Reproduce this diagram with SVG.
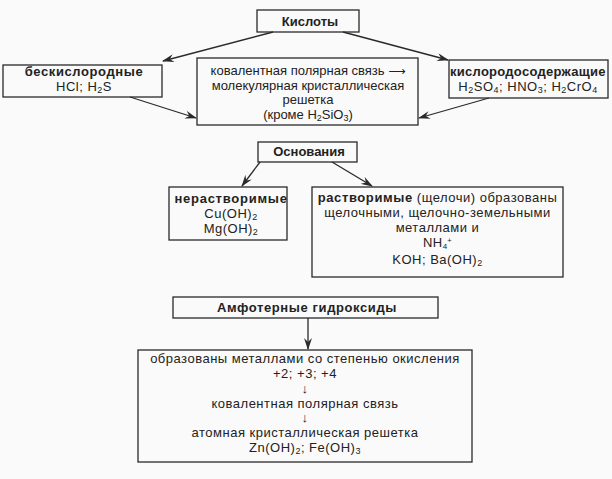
<svg xmlns="http://www.w3.org/2000/svg" width="612" height="479" viewBox="0 0 612 479">
<defs>
<marker id="ah" viewBox="0 0 12 8" refX="11" refY="4" markerWidth="12" markerHeight="8" markerUnits="userSpaceOnUse" orient="auto">
<path d="M0,0 L12,4 L0,8 L4,4 Z" fill="#2a2a2a"/>
</marker>
<style>
.box{fill:none;stroke:#2a2a2a;stroke-width:1.3}
.t{font-family:"Liberation Sans",Arial,sans-serif;font-size:13px;fill:#222;text-anchor:middle;letter-spacing:0.5px}
.m{letter-spacing:0}
.b{font-weight:bold;letter-spacing:0.6px}
.s{font-size:9px}
.c{stroke:#2a2a2a;stroke-width:1.3;fill:none;marker-end:url(#ah)}
</style>
</defs>
<rect width="612" height="479" fill="#fafafa"/>
<g id="connectors">
<line class="c" x1="273" y1="32" x2="163" y2="61"/>
<line class="c" x1="343" y1="32" x2="448" y2="60"/>
<line class="c" x1="130" y1="97" x2="196" y2="118"/>
<line class="c" x1="489" y1="98" x2="419" y2="118"/>
<line class="c" x1="260" y1="162" x2="242" y2="186"/>
<line class="c" x1="332" y1="162" x2="372" y2="186"/>
<line class="c" x1="308" y1="318" x2="308" y2="349"/>
</g>
<g id="kisloty">
<rect class="box" x="257" y="10" width="102" height="22"/>
<text class="t b" x="310" y="26" font-size="15" style="letter-spacing:0">Кислоты</text>
</g>
<g id="beskislorodnye">
<rect class="box" x="3" y="65" width="159" height="32"/>
<text class="t b" x="84" y="76">бескислородные</text>
<text class="t" x="84" y="91">HCl; H<tspan class="s" dy="2">2</tspan><tspan dy="-2">S</tspan></text>
</g>
<g id="kovalent">
<rect class="box" x="197" y="58" width="221" height="67"/>
<text class="t m" x="308" y="75">ковалентная полярная связь <tspan font-family="DejaVu Sans" font-size="12">⟶</tspan></text>
<text class="t m" x="308" y="89.5">молекулярная кристаллическая</text>
<text class="t m" x="308" y="104">решетка</text>
<text class="t m" x="308" y="118.5">(кроме H<tspan class="s" dy="2">2</tspan><tspan dy="-2">SiO</tspan><tspan class="s" dy="2">3</tspan><tspan dy="-2">)</tspan></text>
</g>
<g id="kislorodsoderzh">
<rect class="box" x="449" y="60" width="159" height="38"/>
<text class="t b" x="528" y="76" textLength="156" lengthAdjust="spacing">кислородосодержащие</text>
<text class="t" x="528" y="91">H<tspan class="s" dy="2">2</tspan><tspan dy="-2">SO</tspan><tspan class="s" dy="2">4</tspan><tspan dy="-2">; HNO</tspan><tspan class="s" dy="2">3</tspan><tspan dy="-2">; H</tspan><tspan class="s" dy="2">2</tspan><tspan dy="-2">CrO</tspan><tspan class="s" dy="2">4</tspan></text>
</g>
<g id="osnovaniya">
<rect class="box" x="258" y="142" width="99" height="20"/>
<text class="t b" x="309" y="156" font-size="13.5" style="letter-spacing:0">Основания</text>
</g>
<g id="nerastvorimye">
<rect class="box" x="169" y="187" width="118" height="53"/>
<text class="t b" x="231" y="203" style="letter-spacing:0.75px">нерастворимые</text>
<text class="t" x="231" y="218">Cu(OH)<tspan class="s" dy="2">2</tspan></text>
<text class="t" x="231" y="232.5">Mg(OH)<tspan class="s" dy="2">2</tspan></text>
</g>
<g id="rastvorimye">
<rect class="box" x="312" y="187" width="251" height="90"/>
<text class="t" x="437.5" y="202"><tspan class="b">растворимые</tspan> (щелочи) образованы</text>
<text class="t" x="437.5" y="217">щелочными, щелочно-земельными</text>
<text class="t" x="437.5" y="231.5">металлами и</text>
<text class="t" x="437.5" y="247">NH<tspan font-size="8" dy="2">4</tspan><tspan font-size="7.5" dx="-0.5" dy="-6.3">+</tspan></text>
<text class="t" x="437.5" y="263.5">KOH; Ba(OH)<tspan class="s" dy="2">2</tspan></text>
</g>
<g id="amfoternye">
<rect class="box" x="173" y="297" width="265" height="21"/>
<text class="t b" x="307" y="312">Амфотерные гидроксиды</text>
</g>
<g id="amfoternye-details">
<rect class="box" x="138" y="350" width="334" height="112"/>
<text class="t" x="305" y="363">образованы металлами со степенью окисления</text>
<text class="t" x="305" y="378">+2; +3; +4</text>
<text class="t" x="305" y="393" font-size="10">↓</text>
<text class="t" x="305" y="408">ковалентная полярная связь</text>
<text class="t" x="305" y="422" font-size="10">↓</text>
<text class="t" x="305" y="437">атомная кристаллическая решетка</text>
<text class="t" x="305" y="451.5">Zn(OH)<tspan class="s" dy="2">2</tspan><tspan dy="-2">; Fe(OH)</tspan><tspan class="s" dy="2">3</tspan></text>
</g>
</svg>
